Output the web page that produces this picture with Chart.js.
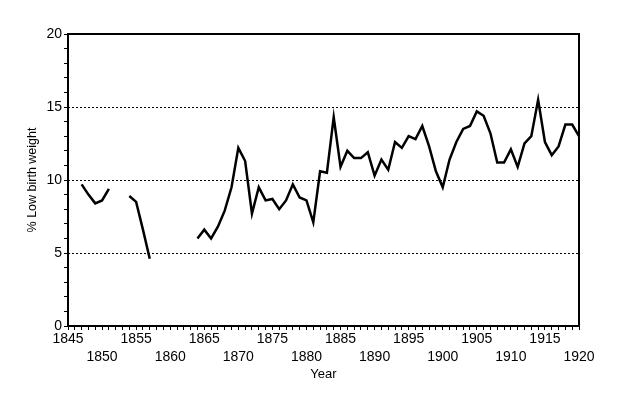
<!DOCTYPE html>
<html lang="en">

<head>
    <meta charset="UTF-8">
    <title>Low birth weight</title>
    <script src="https://cdn.jsdelivr.net/npm/chart.js"></script>
    <style>
        body { margin: 0; background: #fff; }
        #wrap { width: 619px; height: 394px; }
    </style>
</head>

<body>
    <div id="wrap"><canvas id="myChart" width="619" height="394"></canvas></div>

    <script>
        const years = [1847, 1848, 1849, 1850, 1851, 1852, 1853, 1854, 1855, 1856, 1857,
            1858, 1859, 1860, 1861, 1862, 1863, 1864, 1865, 1866, 1867, 1868, 1869,
            1870, 1871, 1872, 1873, 1874, 1875, 1876, 1877, 1878, 1879, 1880, 1881,
            1882, 1883, 1884, 1885, 1886, 1887, 1888, 1889, 1890, 1891, 1892, 1893,
            1894, 1895, 1896, 1897, 1898, 1899, 1900, 1901, 1902, 1903, 1904, 1905,
            1906, 1907, 1908, 1909, 1910, 1911, 1912, 1913, 1914, 1915, 1916, 1917,
            1918, 1919, 1920];
        const lowBirthWeight = [9.7, 9.0, 8.4, 8.6, 9.4, null, null, 8.9, 8.5, 6.6, 4.6,
            null, null, null, null, null, null, 6.0, 6.6, 6.0, 6.8, 7.9, 9.5,
            12.2, 11.3, 7.7, 9.5, 8.6, 8.7, 8.0, 8.6, 9.7, 8.8, 8.6, 7.1,
            10.6, 10.5, 14.3, 10.9, 12.0, 11.5, 11.5, 11.9, 10.3, 11.4, 10.7, 12.6,
            12.2, 13.0, 12.8, 13.7, 12.3, 10.6, 9.5, 11.4, 12.6, 13.5, 13.7, 14.7,
            14.4, 13.2, 11.2, 11.2, 12.1, 10.9, 12.5, 13.0, 15.5, 12.6, 11.7, 12.3,
            13.8, 13.8, 13.0];
        const gridValues = [5, 10, 15];

        const tickFont = { family: "'Liberation Sans Narrow', 'Arial Narrow', 'Liberation Sans', sans-serif", size: 14 };
        const titleFont = { family: "'Liberation Sans', Arial, sans-serif", size: 13 };

        const frame = {
            id: 'frame',
            afterDraw(chart) {
                const { ctx, chartArea: a } = chart;
                ctx.save();
                ctx.strokeStyle = '#000';
                ctx.lineWidth = 2;
                ctx.strokeRect(a.left, a.top, a.right - a.left, a.bottom - a.top);
                ctx.restore();
            }
        };

        new Chart(document.getElementById('myChart'), {
            type: 'line',
            data: {
                datasets: [{
                    data: years.map((y, i) => ({ x: y, y: lowBirthWeight[i] })),
                    borderColor: '#000',
                    borderWidth: 2.5,
                    pointRadius: 0,
                    tension: 0,
                    spanGaps: false
                }]
            },
            options: {
                responsive: false,
                animation: false,
                layout: { padding: { left: 0, right: 40, top: 34, bottom: 0 } },
                plugins: { legend: { display: false }, tooltip: { enabled: false } },
                scales: {
                    x: {
                        type: 'linear',
                        min: 1845,
                        max: 1920,
                        afterFit(s) { s.height = 68; },
                        border: { display: false },
                        grid: { drawOnChartArea: false, tickLength: 4, tickColor: '#000', tickWidth: 1 },
                        ticks: {
                            stepSize: 1,
                            autoSkip: false,
                            maxRotation: 0,
                            padding: 0,
                            color: '#000',
                            font: { ...tickFont, lineHeight: 1.3 },
                            callback: v => {
                                if (v % 5 !== 0) return '';
                                return (v - 1845) % 10 === 0 ? String(v) : ['', String(v)];
                            }
                        },
                        title: { display: true, text: 'Year', color: '#000', font: titleFont, padding: { top: 0, bottom: 12 } }
                    },
                    y: {
                        min: 0,
                        max: 20,
                        afterFit(s) { s.width = 68; },
                        border: { display: false, dash: [2, 2] },
                        grid: {
                            color: c => gridValues.includes(c.tick.value) ? '#000' : 'rgba(0,0,0,0)',
                            tickColor: '#000',
                            tickLength: 4,
                            tickBorderDash: [],
                            tickWidth: 1
                        },
                        ticks: {
                            stepSize: 1,
                            autoSkip: false,
                            padding: 2,
                            color: '#000',
                            font: tickFont,
                            callback: v => v % 5 === 0 ? String(v) : ''
                        },
                        title: { display: true, text: '% Low birth weight', color: '#000', font: { ...titleFont, size: 12.5 }, padding: { top: 25, bottom: 0 } }
                    }
                }
            },
            plugins: [frame]
        });
    </script>
</body>

</html>
